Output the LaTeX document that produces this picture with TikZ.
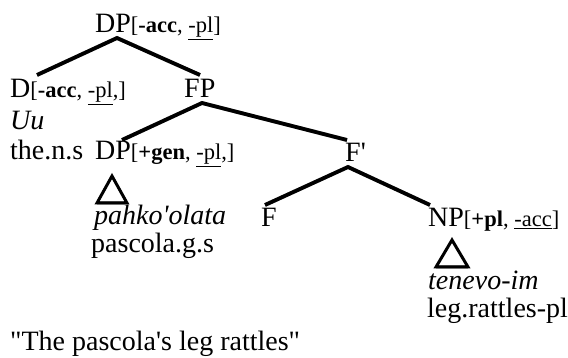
\documentclass[tikz,border=0pt]{standalone}
\usepackage{fontspec}
\setmainfont{Liberation Serif}
\newcommand\ftx[1]{{\fontsize{22.5}{26}\selectfont #1}}
\begin{document}
\begin{tikzpicture}[x=1pt,y=-1pt,
  lbl/.style={anchor=base west, inner sep=0pt, font=\fontsize{28}{30}\selectfont},
  branch/.style={line width=3.8pt, black, line cap=butt},
  shade/.style={line width=3.8pt, black!30, line cap=butt},
  tri/.style={line width=3pt, black, line join=miter}]
\useasboundingbox (0,0) rectangle (568,358);
\fill[white] (0,0) rectangle (568,358);
% labels
\node[lbl] (dp) at (95,33) {DP\ftx{[\textbf{-acc}, \underline{-pl}]}};
\node[lbl] (d) at (10,98) {D\ftx{[\textbf{-acc}, \underline{-pl},]}};
\node[lbl] (fp) at (184,98) {FP};
\node[lbl] (uu) at (10,130) {\textit{Uu}};
\node[lbl] (thens) at (10,160) {the.n.s};
\node[lbl] (dpg) at (95,160) {DP\ftx{[\textbf{+gen}, \underline{-pl},]}};
\node[lbl] (fbar) at (345,162) {F\textquotesingle};
\node[lbl] (f) at (261,227) {F};
\node[lbl] (np) at (428,227) {NP\ftx{[\textbf{+pl}, \underline{-acc}]}};
\node[lbl] (pahko) at (94,225) {\textit{pahko\textquotesingle olata}};
\node[lbl] (pascola) at (91,253) {pascola.g.s};
\node[lbl] (tenevo) at (428,290) {\textit{tenevo-im}};
\node[lbl] (leg) at (427,318) {leg.rattles-pl};
\node[lbl] (quote) at (10,350) {\textquotedbl The pascola\textquotesingle s leg rattles\textquotedbl};
% attachment points
\coordinate (dpT) at (117,38);
\coordinate (dB) at (37,75);
\coordinate (fpB) at (200,75);
\coordinate (fpT) at (202,103);
\coordinate (dpgB) at (122,140);
\coordinate (fbarB) at (347,140);
\coordinate (fbarT) at (348,167);
\coordinate (fB) at (265,205);
\coordinate (npB) at (430,205);
\coordinate (t1a) at (112,176);
\coordinate (t1l) at (97,203);
\coordinate (t1r) at (127,203);
\coordinate (t2a) at (452,240);
\coordinate (t2l) at (436,267);
\coordinate (t2r) at (468,267);
% shadows
\begin{scope}[shift={(1.5,2.5)}]
\draw[shade] (dB) -- (dpT) -- (fpB);
\draw[shade] (dpgB) -- (fpT) -- (fbarB);
\draw[shade] (fB) -- (fbarT) -- (npB);
\draw[shade] (t1l) -- (t1r);
\draw[shade] (t2l) -- (t2r);
\end{scope}
% branches
\draw[branch] (dB) -- (dpT) -- (fpB);
\draw[branch] (dpgB) -- (fpT) -- (fbarB);
\draw[branch] (fB) -- (fbarT) -- (npB);
\draw[tri] (t1a) -- (t1l) -- (t1r) -- cycle;
\draw[tri] (t2a) -- (t2l) -- (t2r) -- cycle;
\end{tikzpicture}
\end{document}
